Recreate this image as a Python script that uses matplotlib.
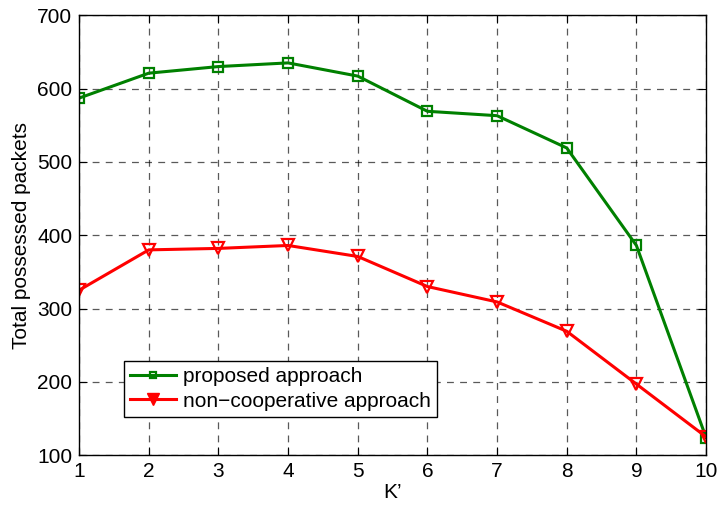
import numpy as np
import matplotlib
matplotlib.use('Agg')
import matplotlib.pyplot as plt
from matplotlib.lines import Line2D

plt.rcParams['font.family'] = ['Liberation Sans', 'DejaVu Sans']

# data
k = [1, 2, 3, 4, 5, 6, 7, 8, 9, 10]
proposed = [587, 621, 630, 635, 617, 569, 563, 519, 386, 124]
noncoop = [325, 380, 382, 386, 371, 330, 309, 269, 197, 125]

fs = 15
green = '#008000'
red = '#ff0000'

fig = plt.figure(figsize=(7.19, 5.08), dpi=100)
ax = fig.add_axes([0.110, 0.104, 0.872, 0.866])

ax.plot(k, proposed, color=green, linewidth=2.2, marker='s', markersize=7,
        markerfacecolor='none', markeredgewidth=1.6)
ax.plot(k, noncoop, color=red, linewidth=2.2, marker='v', markersize=9,
        markerfacecolor='none', markeredgewidth=1.6)

ax.set_xlim(1, 10)
ax.set_ylim(100, 700)
ax.set_xticks(k)
ax.set_yticks(np.arange(100, 701, 100))
ax.grid(True, color='k', linestyle=(0, (5.5, 5)), linewidth=0.9, alpha=0.65)
ax.tick_params(direction='in', top=True, right=True, labelsize=fs, length=6, pad=5)
for s in ax.spines.values():
    s.set_linewidth(1.0)

ax.set_xlabel('K\u2019', fontsize=fs, labelpad=1)
ax.set_ylabel('Total possessed packets', fontsize=fs, labelpad=4)

# legend handles look like MATLAB's (small square, filled triangle)
h1 = Line2D([], [], color=green, linewidth=2.2, marker='s', markersize=5,
            markerfacecolor='none', markeredgewidth=1.6)
h2 = Line2D([], [], color=red, linewidth=2.2, marker='v', markersize=9,
            markerfacecolor=red, markeredgewidth=1.0)
leg = ax.legend([h1, h2], ['proposed approach', 'non\u2212cooperative approach'],
                loc='lower left', bbox_to_anchor=(0.072, 0.087), borderaxespad=0,
                fontsize=fs, frameon=True, fancybox=False, edgecolor='k',
                framealpha=1, handlelength=2.2, borderpad=0.3, labelspacing=0.25,
                handletextpad=0.3)
leg.get_frame().set_linewidth(1.0)

fig.savefig('out.png', dpi=100)
